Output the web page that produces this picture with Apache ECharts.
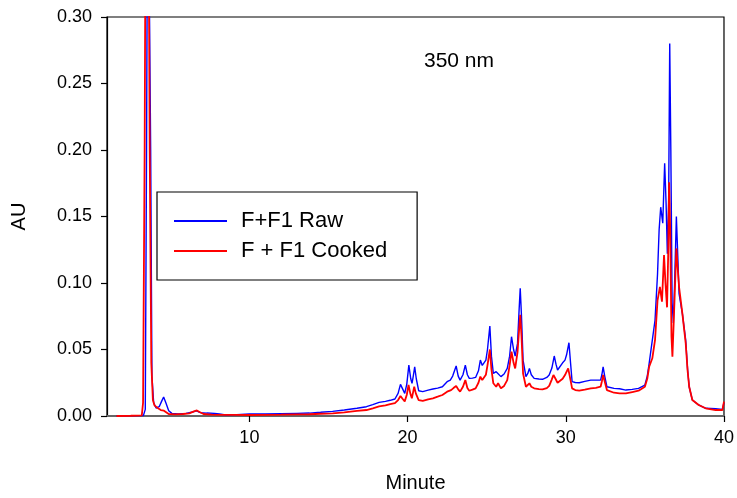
<!DOCTYPE html>
<html>
<head>
<meta charset="utf-8">
<style>
  html, body { margin: 0; padding: 0; background: #fff; }
  #chart { width: 737px; height: 498px; }
</style>
<script src="https://cdn.jsdelivr.net/npm/echarts@6/dist/echarts.min.js"></script>
</head>
<body>
<div id="chart"></div>
<script>
// Chromatogram at 350 nm: absorbance (AU) against retention time (minutes)
const seriesNames = ['F+F1 Raw', 'F + F1 Cooked'];
const xTicks = [10, 20, 30, 40];

// [minute, AU]
const rawTrace = [
  [1.6, 0.0], [2.5, 0.0002], [3.3, 0.0003], [3.42, 0.005], [3.5, 0.2], [3.58, 0.45], [3.66, 0.45],
  [3.76, 0.2], [3.84, 0.03], [3.95, 0.01], [4.1, 0.006], [4.3, 0.007], [4.45, 0.011], [4.58, 0.0143],
  [4.72, 0.01], [4.9, 0.004], [5.1, 0.002], [5.5, 0.0015], [6.0, 0.002], [6.4, 0.003], [6.65, 0.0038],
  [6.9, 0.0025], [7.3, 0.0022], [7.8, 0.002], [8.1, 0.0015], [8.5, 0.0008], [9.2, 0.001], [10, 0.0015],
  [11, 0.0015], [12, 0.0018], [13, 0.002], [13.8, 0.0022], [14.5, 0.0028], [15.26, 0.0035], [16, 0.0045],
  [16.8, 0.0058], [17.4, 0.007], [17.8, 0.0085], [18.2, 0.0102], [18.6, 0.011], [18.9, 0.0118],
  [19.2, 0.0128], [19.4, 0.017], [19.55, 0.0238], [19.7, 0.02], [19.82, 0.017], [19.95, 0.024],
  [20.08, 0.0383], [20.2, 0.028], [20.28, 0.0246], [20.36, 0.03], [20.45, 0.037], [20.55, 0.028],
  [20.7, 0.019], [20.96, 0.0183], [21.3, 0.0195], [21.6, 0.0203], [21.9, 0.021], [22.2, 0.022],
  [22.5, 0.0258], [22.7, 0.027], [22.85, 0.03], [23.07, 0.0376], [23.2, 0.03], [23.32, 0.027],
  [23.5, 0.031], [23.65, 0.0383], [23.78, 0.031], [23.9, 0.0283], [24.1, 0.0285], [24.3, 0.029],
  [24.48, 0.034], [24.6, 0.0421], [24.72, 0.038], [24.82, 0.0366], [24.95, 0.042], [25.05, 0.05],
  [25.2, 0.0677], [25.3, 0.045], [25.42, 0.032], [25.6, 0.0333], [25.72, 0.032], [25.9, 0.0296],
  [26.1, 0.0316], [26.3, 0.0358], [26.45, 0.045], [26.57, 0.0596], [26.7, 0.05], [26.8, 0.0451],
  [26.95, 0.0546], [27.05, 0.08], [27.12, 0.096], [27.2, 0.075], [27.3, 0.042], [27.48, 0.0296],
  [27.6, 0.032], [27.7, 0.0358], [27.82, 0.031], [28.0, 0.0283], [28.3, 0.0278], [28.53, 0.0276],
  [28.8, 0.029], [28.95, 0.0308], [29.12, 0.036], [29.27, 0.0451], [29.38, 0.039], [29.48, 0.0346],
  [29.6, 0.0358], [29.8, 0.04], [29.95, 0.042], [30.05, 0.046], [30.2, 0.0551], [30.3, 0.04],
  [30.4, 0.0258], [30.6, 0.0252], [30.85, 0.025], [31.2, 0.026], [31.58, 0.027], [31.9, 0.027],
  [32.2, 0.027], [32.28, 0.031], [32.36, 0.037], [32.46, 0.03], [32.6, 0.022], [33.05, 0.0208],
  [33.4, 0.0205], [33.8, 0.0195], [34.2, 0.02], [34.6, 0.0208], [35.0, 0.0233], [35.15, 0.03],
  [35.27, 0.0396], [35.47, 0.057], [35.64, 0.072], [35.8, 0.107], [35.9, 0.14], [36.0, 0.157],
  [36.13, 0.145], [36.25, 0.19], [36.34, 0.16], [36.42, 0.122], [36.5, 0.16], [36.57, 0.28],
  [36.64, 0.2], [36.72, 0.085], [36.8, 0.07], [36.88, 0.1], [36.99, 0.15], [37.08, 0.12],
  [37.16, 0.092], [37.37, 0.077], [37.58, 0.057], [37.7, 0.035], [37.8, 0.022], [38.0, 0.012],
  [38.4, 0.0083], [38.84, 0.0058], [39.47, 0.0055], [39.9, 0.005], [40.0, 0.01]
];

const cookedTrace = [
  [1.6, 0.0], [2.5, 0.0002], [3.2, 0.0005], [3.28, 0.01], [3.38, 0.2], [3.46, 0.45], [3.6, 0.45],
  [3.7, 0.2], [3.8, 0.04], [3.9, 0.012], [4.0, 0.008], [4.2, 0.006], [4.4, 0.0045], [4.6, 0.004],
  [4.72, 0.0025], [4.9, 0.0015], [5.3, 0.0012], [5.8, 0.0015], [6.2, 0.002], [6.5, 0.0035],
  [6.68, 0.0042], [6.85, 0.003], [7.1, 0.0015], [7.6, 0.001], [8.5, 0.0008], [9.2, 0.0008],
  [10, 0.00075], [11, 0.0009], [12, 0.001], [13, 0.0012], [13.8, 0.0013], [14.5, 0.0017],
  [15.26, 0.002], [16, 0.0028], [16.8, 0.0038], [17.4, 0.0045], [17.8, 0.0058], [18.2, 0.0072],
  [18.6, 0.008], [18.9, 0.009], [19.2, 0.0097], [19.4, 0.012], [19.55, 0.015], [19.68, 0.013],
  [19.82, 0.011], [19.95, 0.016], [20.06, 0.0233], [20.17, 0.017], [20.27, 0.0133], [20.35, 0.018],
  [20.42, 0.022], [20.52, 0.017], [20.7, 0.012], [20.96, 0.0113], [21.3, 0.0125], [21.6, 0.0133],
  [21.9, 0.0145], [22.2, 0.0158], [22.5, 0.0183], [22.75, 0.0195], [22.9, 0.021], [23.07, 0.0226],
  [23.2, 0.02], [23.32, 0.0183], [23.5, 0.022], [23.65, 0.027], [23.78, 0.021], [23.9, 0.019],
  [24.1, 0.0198], [24.3, 0.0208], [24.48, 0.025], [24.6, 0.0296], [24.72, 0.027], [24.82, 0.0258],
  [24.95, 0.031], [25.05, 0.038], [25.2, 0.05], [25.3, 0.035], [25.42, 0.0246], [25.6, 0.022],
  [25.72, 0.0246], [25.9, 0.0208], [26.1, 0.0226], [26.3, 0.027], [26.45, 0.038], [26.57, 0.0484],
  [26.7, 0.04], [26.8, 0.0358], [26.95, 0.048], [27.05, 0.065], [27.12, 0.076], [27.2, 0.06],
  [27.3, 0.032], [27.48, 0.022], [27.6, 0.022], [27.7, 0.0246], [27.82, 0.022], [28.0, 0.0208],
  [28.3, 0.0202], [28.53, 0.02], [28.8, 0.021], [28.95, 0.0226], [29.1, 0.027], [29.22, 0.0308],
  [29.35, 0.028], [29.48, 0.025], [29.6, 0.0246], [29.8, 0.028], [29.95, 0.0308], [30.05, 0.032],
  [30.15, 0.0358], [30.25, 0.03], [30.4, 0.0208], [30.6, 0.0195], [30.85, 0.019], [31.2, 0.0198],
  [31.58, 0.0208], [31.9, 0.0212], [32.2, 0.022], [32.28, 0.026], [32.36, 0.0308], [32.46, 0.026],
  [32.6, 0.0195], [33.05, 0.0175], [33.4, 0.017], [33.8, 0.017], [34.2, 0.018], [34.6, 0.019],
  [35.0, 0.022], [35.15, 0.028], [35.27, 0.037], [35.47, 0.0434], [35.64, 0.057], [35.8, 0.087],
  [35.95, 0.097], [36.08, 0.086], [36.21, 0.121], [36.3, 0.1], [36.4, 0.0817], [36.47, 0.12],
  [36.53, 0.1757], [36.6, 0.14], [36.68, 0.06], [36.74, 0.0446], [36.82, 0.07], [36.99, 0.126],
  [37.08, 0.11], [37.16, 0.097], [37.37, 0.077], [37.58, 0.0547], [37.7, 0.034], [37.8, 0.022],
  [38.0, 0.012], [38.4, 0.0083], [38.84, 0.0058], [39.47, 0.0045], [39.9, 0.0045], [40.0, 0.0108]
];

const FONT = 'Liberation Sans, Arial, sans-serif';
const chart = echarts.init(document.getElementById('chart'), null, { renderer: 'canvas' });

chart.setOption({
  animation: false,
  backgroundColor: '#ffffff',
  title: {
    text: '350 nm',
    left: 419,
    top: 46,
    textStyle: { fontFamily: FONT, fontSize: 21, fontWeight: 'normal', color: '#000' }
  },
  legend: {
    orient: 'vertical',
    left: 157,
    top: 192,
    padding: [18, 30, 18, 17],
    itemGap: 8,
    itemWidth: 53,
    itemHeight: 2,
    icon: 'rect',
    borderColor: '#000',
    borderWidth: 1.2,
    backgroundColor: '#fff',
    data: seriesNames,
    textStyle: { fontFamily: FONT, fontSize: 22, color: '#000', padding: [0, 0, 0, 9] }
  },
  grid: {
    left: 107, top: 17, right: 12, bottom: 82,
    show: true, borderColor: '#000', borderWidth: 1.2, backgroundColor: 'transparent'
  },
  xAxis: {
    type: 'value',
    min: 1,
    max: 40,
    name: 'Minute',
    nameLocation: 'middle',
    nameGap: 57,
    nameTextStyle: { fontFamily: FONT, fontSize: 20, color: '#000' },
    axisLine: { show: true, onZero: false, lineStyle: { color: '#666', width: 2 } },
    axisTick: { show: true, length: 6, lineStyle: { color: '#000', width: 1.2 }, customValues: xTicks },
    axisLabel: { fontFamily: FONT, fontSize: 18, color: '#000', margin: 13, customValues: xTicks },
    splitLine: { show: false }
  },
  yAxis: {
    type: 'value',
    min: 0,
    max: 0.3,
    interval: 0.05,
    name: 'AU',
    nameLocation: 'middle',
    nameGap: 78,
    nameTextStyle: { fontFamily: FONT, fontSize: 20, color: '#000' },
    axisLine: { show: true, lineStyle: { color: '#000', width: 1.2 } },
    axisTick: { show: true, length: 6, lineStyle: { color: '#000', width: 1.2 } },
    axisLabel: {
      fontFamily: FONT, fontSize: 18, color: '#000', margin: 15,
      formatter: v => v.toFixed(2)
    },
    splitLine: { show: false }
  },
  series: [
    {
      name: seriesNames[0],
      type: 'line',
      data: rawTrace,
      symbol: 'none',
      clip: true,
      z: 2,
      lineStyle: { color: '#0000ff', width: 1.4 },
      itemStyle: { color: '#0000ff' }
    },
    {
      name: seriesNames[1],
      type: 'line',
      data: cookedTrace,
      symbol: 'none',
      clip: true,
      z: 3,
      lineStyle: { color: '#ff0000', width: 1.8 },
      itemStyle: { color: '#ff0000' }
    }
  ]
});
</script>
</body>
</html>
